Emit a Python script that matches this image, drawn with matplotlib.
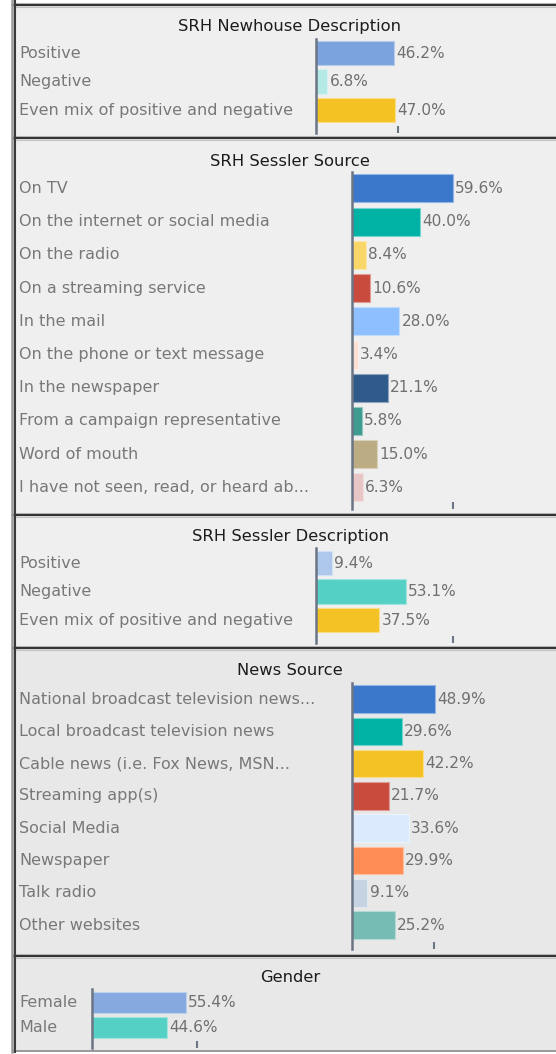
import matplotlib
matplotlib.use("Agg")
import matplotlib.pyplot as plt
from matplotlib.patches import Rectangle
from matplotlib.lines import Line2D
import matplotlib.transforms as mtrans

plt.rcParams['font.family'] = ['DejaVu Sans']

# ---------------- data ----------------
newhouse_desc_labels = ["Positive", "Negative", "Even mix of positive and negative"]
newhouse_desc_values = [46.2, 6.8, 47.0]
newhouse_desc_colors = ["#7ba3dd", "#b4e9e5", "#f5c224"]

sessler_source_labels = ["On TV", "On the internet or social media", "On the radio",
                         "On a streaming service", "In the mail",
                         "On the phone or text message", "In the newspaper",
                         "From a campaign representative", "Word of mouth",
                         "I have not seen, read, or heard ab..."]
sessler_source_values = [59.6, 40.0, 8.4, 10.6, 28.0, 3.4, 21.1, 5.8, 15.0, 6.3]
sessler_source_colors = ["#3b78cc", "#00b2a4", "#f8d668", "#c84b3e", "#8ec0ff",
                         "#fde0d4", "#2f5a8a", "#3d9b90", "#bcac84", "#e8c6c6"]

sessler_desc_labels = ["Positive", "Negative", "Even mix of positive and negative"]
sessler_desc_values = [9.4, 53.1, 37.5]
sessler_desc_colors = ["#aec8ec", "#55d0c4", "#f5c226"]

news_source_labels = ["National broadcast television news...",
                      "Local broadcast television news",
                      "Cable news (i.e. Fox News, MSN...", "Streaming app(s)",
                      "Social Media", "Newspaper", "Talk radio", "Other websites"]
news_source_values = [48.9, 29.6, 42.2, 21.7, 33.6, 29.9, 9.1, 25.2]
news_source_colors = ["#3b78cc", "#00b2a4", "#f5c226", "#c84b3e", "#dbeafc",
                      "#ff8c55", "#c5d3e3", "#76bcb4"]

gender_labels = ["Female", "Male"]
gender_values = [55.4, 44.6]
gender_colors = ["#86a9e0", "#55d0c4"]

titles = ["SRH Newhouse Description", "SRH Sessler Source",
          "SRH Sessler Description", "News Source", "Gender"]
tick_values = [48.5, 59.8, 81.2, 48.8, 62.1]

# ---------------- layout (pixels) ----------------
W, H = 556, 1054
fig = plt.figure(figsize=(W / 100, H / 100), dpi=100)
fig.patch.set_facecolor("white")

def fx(x):
    return x / W

def fy(y):
    return 1 - y / H

PX_PER_PCT = 1.69

panels = [
    dict(top=5, bottom=138, bg="#efefef", ty=27, ax_x=316, at=39, ab=133, r0=53, sp=28.6, bh=24.5,
         labels=newhouse_desc_labels, values=newhouse_desc_values, colors=newhouse_desc_colors),
    dict(top=138, bottom=515, bg="#efefef", ty=161, ax_x=352, at=172, ab=509, r0=188.5, sp=33.2, bh=28,
         labels=sessler_source_labels, values=sessler_source_values, colors=sessler_source_colors),
    dict(top=515, bottom=648, bg="#efefef", ty=537, ax_x=316, at=548, ab=643, r0=563, sp=28.6, bh=24.5,
         labels=sessler_desc_labels, values=sessler_desc_values, colors=sessler_desc_colors),
    dict(top=648, bottom=956, bg="#e8e8e8", ty=670.5, ax_x=352, at=683, ab=949, r0=699, sp=32.3, bh=27.5,
         labels=news_source_labels, values=news_source_values, colors=news_source_colors),
    dict(top=956, bottom=1051, bg="#e8e8e8", ty=977.5, ax_x=92, at=989, ab=1048, r0=1002.5, sp=25, bh=21.5,
         labels=gender_labels, values=gender_values, colors=gender_colors),
]

def lighten(c, f=0.45):
    r, g, b = matplotlib.colors.to_rgb(c)
    return (r + (1 - r) * f, g + (1 - g) * f, b + (1 - b) * f)

axis_col = "#6b7585"

for i, p in enumerate(panels):
    fig.patches.append(Rectangle((fx(15), fy(p["bottom"])), fx(556 - 15),
                                 (p["bottom"] - p["top"]) / H,
                                 transform=fig.transFigure, facecolor=p["bg"],
                                 edgecolor="none", zorder=-10))
    fig.text(fx(290), fy(p["ty"]), titles[i], ha="center", va="center",
             fontsize=11.8, color="#1c1c1c")

    left = p["ax_x"]
    ax = fig.add_axes([fx(left), fy(p["ab"]), fx(556 - left), (p["ab"] - p["at"]) / H])
    ax.set_zorder(1)
    ax.patch.set_alpha(0)
    n = len(p["values"])
    y_top = -(p["r0"] - p["at"]) / p["sp"]
    y_bot = (p["ab"] - p["r0"]) / p["sp"]
    ax.set_ylim(y_bot, y_top)
    ax.set_xlim(0, (556 - left) / PX_PER_PCT)
    ypos = list(range(n))
    ax.barh(ypos, p["values"], height=p["bh"] / p["sp"], color=p["colors"],
            edgecolor=[lighten(c) for c in p["colors"]], linewidth=0.8, zorder=2)
    for yy, v in zip(ypos, p["values"]):
        ax.annotate(f"{v:.1f}%", (v, yy), xytext=(1.6, 0), textcoords="offset points",
                    ha="left", va="center", fontsize=11.1, color="#707070")
    trans = mtrans.blended_transform_factory(fig.transFigure, ax.transData)
    for yy, lab in zip(ypos, p["labels"]):
        ax.text(fx(19), yy, lab, transform=trans, ha="left", va="center",
                fontsize=11.5, color="#787878", clip_on=False)
    for s in ["top", "right", "bottom"]:
        ax.spines[s].set_visible(False)
    ax.spines["left"].set_color(axis_col)
    ax.spines["left"].set_linewidth(1.8)
    ax.set_yticks([])
    ax.set_xticks([tick_values[i]])
    ax.tick_params(axis="x", direction="in", length=5, width=1.5, colors=axis_col,
                   labelbottom=False)

for yline in [5, 138, 515, 648, 956]:
    for off in (-1.7, 1.7):
        fig.add_artist(Line2D([fx(15), 1], [fy(yline + off), fy(yline + off)], color="#c4c4c4",
                              linewidth=0.8, transform=fig.transFigure))
    fig.add_artist(Line2D([fx(13), 1], [fy(yline), fy(yline)], color="#333333",
                          linewidth=1.6, transform=fig.transFigure))
fig.add_artist(Line2D([fx(13), 1], [fy(1051), fy(1051)], color="#8a8a8a",
                      linewidth=1.2, transform=fig.transFigure))
fig.add_artist(Line2D([fx(12), fx(12)], [fy(0), fy(1052)], color="#9a9a9a",
                      linewidth=1.8, transform=fig.transFigure))
fig.add_artist(Line2D([fx(14.5), fx(14.5)], [fy(0), fy(1052)], color="#3a3a3a",
                      linewidth=1.5, transform=fig.transFigure))

fig.savefig("out.png", dpi=100)
